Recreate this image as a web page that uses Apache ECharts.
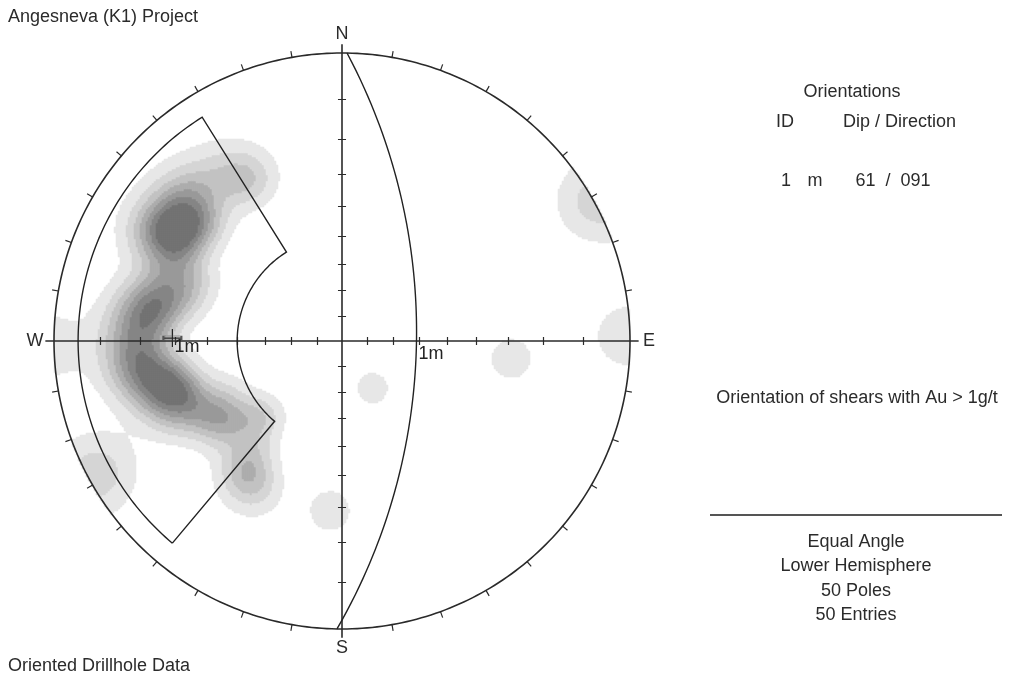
<!DOCTYPE html>
<html>
<head>
<meta charset="utf-8">
<script src="https://cdn.jsdelivr.net/npm/echarts@6/dist/echarts.min.js"></script>
<style>
html,body{margin:0;padding:0;background:#fff}
#chart{width:1031px;height:678px}
</style>
</head>
<body>
<div id="chart"></div>
<script>
// poles (trend / plunge, degrees) estimated from the contour shapes
const poleTrend = [304,300,307,303,309, 296,312,302,315, 311,300, 329,331, 324, 291,285,
	278,281,276,282, 288,276, 264,262,266, 270,
	250,247,255, 256,258, 237,240,235,245, 226,229, 215,217,258, 255,220,210,
	242,248, 184,147,96,89,61]
const polePlunge = [22,21,24,19,21, 26,26,18,17, 16,15, 25,23, 18, 33,30,
	23,24,22,21, 25,17, 19,17,21, 17,
	31,29,28, 29,26, 36,34,38,42, 49,46, 32,30,22, 22,38,28,
	4,24, 29,68,29,1,1]

// planes
const planeId = ['1']
const planeLabel = ['m']
const planeDip = [61]
const planeDipDir = [91]

// set window
const windowTrend = [220, 328]
const windowPlunge = [5, 50]

// contour levels (density) and fills
const contourLevels = [0.62, 1.34, 2.06, 2.78, 3.5, 4.22, 4.94]
const contourColors = ['#e7e7e7','#d5d5d5','#c2c2c2','#adadad','#999999','#858585','#737373']

// net decorations
const primitiveTicks = [10,20,30,40,50,60,70,80,100,110,120,130,140,150,160,170,190,200,210,220,230,240,250,260,280,290,300,310,320,330,340,350]
const axisTickAngles = [10,20,30,40,50,60,70,80]
const compass = [['N',0],['E',90],['S',180],['W',270]]
const infoLines = ['Equal Angle','Lower Hemisphere','50 Poles','50 Entries']

const cx=342, cy=341, R=288, N=288, K=100
const rad=Math.PI/180

const proj=(trend,plunge)=>{
	let r=Math.tan((90-plunge)/2*rad)
	return [r*Math.sin(trend*rad), r*Math.cos(trend*rad)]
}
const vec=(trend,plunge)=>[Math.cos(plunge*rad)*Math.sin(trend*rad),Math.cos(plunge*rad)*Math.cos(trend*rad),Math.sin(plunge*rad)]

// density on a grid of cells inside the net
const poleVecs=poleTrend.map((t,i)=>vec(t,polePlunge[i]))
const heat=[]
for(let i=0;i<N;i++){
	for(let j=0;j<N;j++){
		let x=-1+(i+0.5)*2/N, y=-1+(j+0.5)*2/N
		let r=Math.sqrt(x*x+y*y)
		if(r>1.003) continue
		let plunge=90-2*Math.atan(r)/rad
		let trend=Math.atan2(x,y)/rad
		let v=vec(trend,plunge)
		let d=0
		poleVecs.forEach(p=>{
			let c=Math.abs(p[0]*v[0]+p[1]*v[1]+p[2]*v[2])
			d+=Math.exp(K*(c-1))
		})
		if(d>=contourLevels[0]) heat.push([i,j,d])
	}
}

const circle=[]
for(let a=0;a<=360;a++) circle.push([Math.sin(a*rad),Math.cos(a*rad)])

const tickLines=primitiveTicks.map(t=>({coords:[[Math.sin(t*rad),Math.cos(t*rad)],[1.022*Math.sin(t*rad),1.022*Math.cos(t*rad)]]}))
const h=0.014
axisTickAngles.forEach(a=>{
	let r=Math.tan(a/2*rad)
	tickLines.push({coords:[[r,-h],[r,h]]},{coords:[[-r,-h],[-r,h]]},{coords:[[-h,r],[h,r]]},{coords:[[-h,-r],[h,-r]]})
})
const crossLines=[{coords:[[0,-1.03],[0,1.03]]},{coords:[[-1.03,0],[1.03,0]]}]

const greatCircles=planeDip.map((dip,k)=>{
	let pts=[]
	for(let t=planeDipDir[k]-90;t<=planeDipDir[k]+90;t++){
		let p=Math.atan(Math.tan(dip*rad)*Math.cos((t-planeDipDir[k])*rad))/rad
		pts.push(proj(t,p))
	}
	return {coords:pts}
})
const planePoles=planeDip.map((dip,k)=>proj(planeDipDir[k]+180,90-dip))
const planeMid=planeDip.map((dip,k)=>proj(planeDipDir[k],dip))

const win=[]
for(let t=windowTrend[0];t<=windowTrend[1];t++) win.push(proj(t,windowPlunge[0]))
for(let t=windowTrend[1];t>=windowTrend[0];t--) win.push(proj(t,windowPlunge[1]))
win.push(win[0])

const font='"Liberation Sans", Arial, sans-serif'
const cats=Array.from({length:N},(_,i)=>i)
const pieces=contourLevels.map((l,k)=>k<contourLevels.length-1?{gte:l,lt:contourLevels[k+1],color:contourColors[k]}:{gte:l,color:contourColors[k]})

const txt=(text,x,y,align)=>({type:'text',x:x,y:y,silent:true,style:{text:text,font:'18px '+font,fill:'#2b2b2b',textAlign:align||'center',textVerticalAlign:'middle'}})
const lbl=(offset)=>({show:true,position:'right',distance:0,offset:offset,formatter:p=>p.value[2],fontSize:18,color:'#222',opacity:1})

const chart=echarts.init(document.getElementById('chart'))
chart.setOption({
	animation:false,
	backgroundColor:'#fff',
	textStyle:{fontFamily:font},
	grid:[
		{left:cx-R,top:cy-R,width:2*R,height:2*R},
		{left:cx-1.1*R,top:cy-1.1*R,width:2.2*R,height:2.2*R}
	],
	xAxis:[
		{type:'category',data:cats,show:false,gridIndex:0},
		{type:'value',min:-1.1,max:1.1,show:false,gridIndex:1}
	],
	yAxis:[
		{type:'category',data:cats,show:false,gridIndex:0},
		{type:'value',min:-1.1,max:1.1,show:false,gridIndex:1}
	],
	visualMap:{type:'piecewise',show:false,seriesIndex:0,dimension:2,pieces:pieces},
	series:[
		{type:'heatmap',xAxisIndex:0,yAxisIndex:0,data:heat,progressive:0,silent:true,emphasis:{disabled:true}},
		{type:'lines',coordinateSystem:'cartesian2d',xAxisIndex:1,yAxisIndex:1,polyline:true,silent:true,
			data:[{coords:circle}],lineStyle:{color:'#2a2a2a',width:1.6,opacity:1}},
		{type:'lines',coordinateSystem:'cartesian2d',xAxisIndex:1,yAxisIndex:1,silent:true,
			data:tickLines,lineStyle:{color:'#2a2a2a',width:1.2,opacity:1}},
		{type:'lines',coordinateSystem:'cartesian2d',xAxisIndex:1,yAxisIndex:1,silent:true,
			data:crossLines,lineStyle:{color:'#2a2a2a',width:1.6,opacity:1}},
		{type:'lines',coordinateSystem:'cartesian2d',xAxisIndex:1,yAxisIndex:1,polyline:true,silent:true,
			data:greatCircles,lineStyle:{color:'#222',width:1.4,opacity:1}},
		{type:'lines',coordinateSystem:'cartesian2d',xAxisIndex:1,yAxisIndex:1,polyline:true,silent:true,
			data:[{coords:win}],lineStyle:{color:'#222',width:1.4,opacity:1}},
		{type:'scatter',xAxisIndex:1,yAxisIndex:1,silent:true,
			symbol:'path://M-0.6,-9H0.6V-0.6H9V0.6H0.6V9H-0.6V0.6H-9V-0.6H-0.6Z',symbolSize:18,
			itemStyle:{color:'#222',opacity:1},data:planePoles},
		{type:'scatter',xAxisIndex:1,yAxisIndex:1,silent:true,symbol:'rect',symbolSize:[18,4],
			itemStyle:{color:'rgba(0,0,0,0)',borderColor:'#555',borderWidth:1,opacity:1},data:planePoles},
		{type:'scatter',xAxisIndex:1,yAxisIndex:1,silent:true,symbolSize:0,itemStyle:{opacity:1},
			data:planePoles.map((p,k)=>[p[0],p[1],planeId[k]+planeLabel[k]]),label:lbl([2,9])},
		{type:'scatter',xAxisIndex:1,yAxisIndex:1,silent:true,symbolSize:0,itemStyle:{opacity:1},
			data:planeMid.map((p,k)=>[p[0],p[1],planeId[k]+planeLabel[k]]),label:lbl([2,12])},
		{type:'scatter',xAxisIndex:1,yAxisIndex:1,silent:true,symbolSize:1,itemStyle:{color:'rgba(0,0,0,0)',opacity:1},
			data:compass.map(c=>[1.066*Math.sin(c[1]*rad),1.066*Math.cos(c[1]*rad),c[0]]),
			label:{show:true,position:'inside',formatter:p=>p.value[2],fontSize:18,color:'#2b2b2b',opacity:1}}
	],
	graphic:[
		txt('Angesneva (K1) Project',8,17,'left'),
		txt('Oriented Drillhole Data',8,666,'left'),
		txt('Orientations',852,92),
		txt('ID',776,122,'left'),
		txt('Dip / Direction',843,122,'left'),
		txt(planeId[0],786,181),
		txt(planeLabel[0],815,181),
		txt(planeDip[0]+'  /  '+String(planeDipDir[0]).padStart(3,'0'),893,181),
		txt('Orientation of shears with Au > 1g/t',857,398),
		{type:'line',silent:true,shape:{x1:710,y1:515,x2:1002,y2:515},style:{stroke:'#555',lineWidth:2}},
		...infoLines.map((s,k)=>txt(s,856,542+k*24.5))
	]
})
</script>
</body>
</html>
